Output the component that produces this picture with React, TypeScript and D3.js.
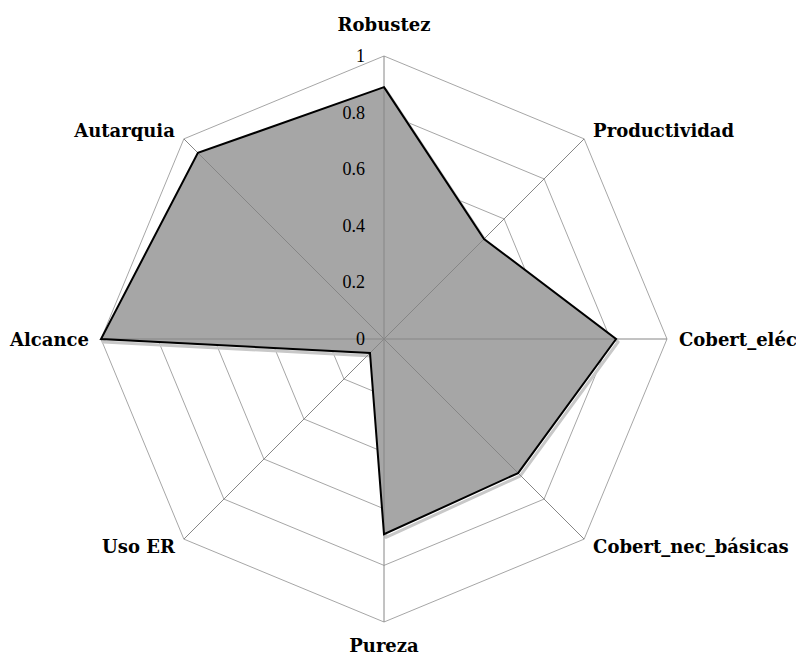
import React from "react";
import * as d3 from "d3";

const categories = [
  "Robustez",
  "Productividad",
  "Cobert_eléc.",
  "Cobert_nec_básicas",
  "Pureza",
  "Uso ER",
  "Alcance",
  "Autarquia",
];
const values = [0.89, 0.5, 0.82, 0.67, 0.69, 0.07, 1.0, 0.93];
const ticks = [0, 0.2, 0.4, 0.6, 0.8, 1];

// svg sits at (8,8) because of the body margin
const cx = 376;
const cy = 331;
const R = 283;

// label placement per axis: anchor + offset from outer vertex
const labelPos = [
  { anchor: "middle", dx: 0, dy: -25 },
  { anchor: "start", dx: 9, dy: -2 },
  { anchor: "start", dx: 12, dy: 7 },
  { anchor: "start", dx: 9, dy: 14 },
  { anchor: "middle", dx: 0, dy: 30 },
  { anchor: "end", dx: -9, dy: 14 },
  { anchor: "end", dx: -12, dy: 7 },
  { anchor: "end", dx: -9, dy: -2 },
];

export default function App() {
  const r = d3.scaleLinear().domain([0, 1]).range([0, R]);
  const angle = d3
    .scalePoint<number>()
    .domain(d3.range(categories.length))
    .range([0, 2 * Math.PI * (1 - 1 / categories.length)]);

  const pt = (i: number, v: number): [number, number] => {
    const a = angle(i)!;
    return [cx + r(v) * Math.sin(a), cy - r(v) * Math.cos(a)];
  };

  const line = d3.line<[number, number]>().curve(d3.curveLinearClosed);

  const ring = (v: number) => line(categories.map((_, i) => pt(i, v)))!;
  const dataPts = values.map((v, i) => pt(i, v));

  return (
    <svg width={796} height={650} style={{ display: "block" }}>
      <g>
        {ticks.slice(1).map((t) => (
          <path key={t} d={ring(t)} fill="none" stroke="#a6a6a6" strokeWidth={1} />
        ))}
      </g>
      <path
        d={line(dataPts)!}
        transform="translate(2,3)"
        fill="none"
        stroke="#c8c8c8"
        strokeWidth={3}
        strokeLinejoin="round"
      />
      <path d={line(dataPts)!} fill="#a6a6a6" stroke="none" />
      <g>
        {categories.map((c, i) => {
          const [x, y] = pt(i, 1);
          return <line key={c} x1={cx} y1={cy} x2={x} y2={y} stroke="#868686" strokeWidth={1} />;
        })}
      </g>
      <path d={line(dataPts)!} fill="none" stroke="#000" strokeWidth={2} strokeLinejoin="miter" />
      <g fontFamily="Liberation Serif" fontSize={18} fill="#000">
        {ticks.map((t) => (
          <text key={t} x={cx - 19} y={cy - r(t)} dy="0.33em" textAnchor="end">
            {t}
          </text>
        ))}
      </g>
      <g fontFamily="DejaVu Serif" fontSize={18} fontWeight="bold" fill="#000">
        {categories.map((c, i) => {
          const [x, y] = pt(i, 1);
          const lp = labelPos[i];
          return (
            <text key={c} x={x + lp.dx} y={y + lp.dy} textAnchor={lp.anchor as any}>
              {c}
            </text>
          );
        })}
      </g>
    </svg>
  );
}
